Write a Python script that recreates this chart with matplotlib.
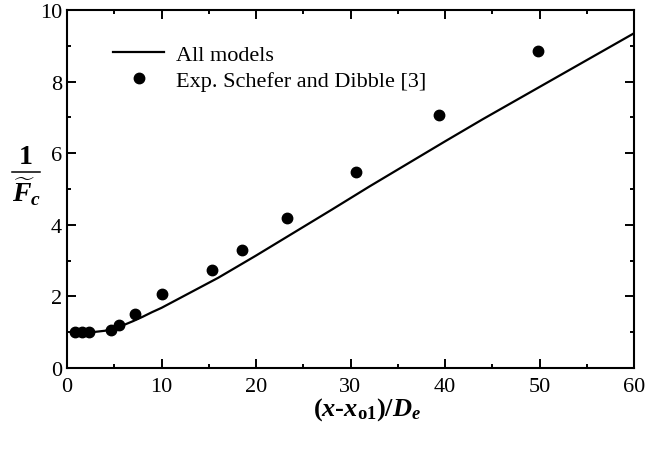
import matplotlib
matplotlib.use("Agg")
import matplotlib.pyplot as plt
from matplotlib.lines import Line2D
from matplotlib.ticker import MultipleLocator

plt.rcParams['font.family'] = ['Liberation Serif', 'DejaVu Serif']
plt.rcParams['mathtext.fontset'] = 'custom'
plt.rcParams['mathtext.rm'] = 'Liberation Serif'
plt.rcParams['mathtext.it'] = 'Liberation Serif:italic'
plt.rcParams['mathtext.bf'] = 'Liberation Serif:bold'
plt.rcParams['mathtext.bfit'] = 'Liberation Serif:italic:bold'

# Model curve (all models)
model_x = [0.7, 2.0, 3.0, 4.0, 5.0, 6.0, 7.0, 8.0, 9.0, 10.0, 12.0, 14.0, 16.0, 18.0,
           20.0, 24.0, 28.0, 32.0, 36.0, 40.0, 44.0, 48.0, 52.0, 56.0, 60.0]
model_y = [1.0, 1.0, 1.01, 1.04, 1.1, 1.2, 1.31, 1.43, 1.56, 1.68, 1.96, 2.24, 2.52, 2.83,
           3.14, 3.78, 4.42, 5.07, 5.7, 6.33, 6.95, 7.55, 8.15, 8.75, 9.35]

# Experimental data, Schefer and Dibble [3]
exp_x = [0.85, 1.62, 2.36, 4.66, 5.5, 7.2, 10.0, 15.3, 18.5, 23.3, 30.6, 39.4, 49.8]
exp_y = [1.0, 1.0, 1.0, 1.06, 1.2, 1.52, 2.07, 2.74, 3.3, 4.19, 5.47, 7.07, 8.85]

x_ticks = [0, 10, 20, 30, 40, 50, 60]
y_ticks = [0, 2, 4, 6, 8, 10]

fig = plt.figure(figsize=(6.64, 4.52), dpi=100)
ax = fig.add_axes([67/664, 1 - 369/452, (634 - 67)/664, (369 - 11)/452])

ax.plot(model_x, model_y, color='black', lw=1.6, label='All models')
ax.plot(exp_x, exp_y, 'o', color='black', ms=7.5, ls='none',
        label='Exp. Schefer and Dibble [3]')

ax.set_xlim(0, 60)
ax.set_ylim(0, 10)
ax.set_xticks(x_ticks)
ax.set_yticks(y_ticks)
ax.xaxis.set_minor_locator(MultipleLocator(5))
ax.yaxis.set_minor_locator(MultipleLocator(1))
ax.tick_params(which='both', direction='in', top=True, right=True, width=1.4, labelsize=16)
ax.tick_params(which='major', length=6.5)
ax.tick_params(which='minor', length=3)
ax.tick_params(axis='x', which='major', pad=6.5)
ax.tick_params(axis='y', which='major', pad=3.5)
for s in ax.spines.values():
    s.set_linewidth(1.5)

ax.legend(loc='upper left', bbox_to_anchor=(0.066, 0.93), frameon=False, fontsize=16,
          handlelength=2.3, handletextpad=0.5, labelspacing=0.25, borderaxespad=0)

# y label as a stacked fraction
fig.text(25/664, 1 - 158/452, r'$\mathbf{1}$', fontsize=20, ha='center', va='center')
fig.add_artist(Line2D([12/664, 40/664], [1 - 173/452, 1 - 173/452], color='black', lw=1.1,
                      transform=fig.transFigure))
fig.text(27/664, 1 - 192/452, r'$\widetilde{\mathbfit{F}}_{\mathbfit{c}}$', fontsize=20,
         ha='center', va='center')

fig.text(367/664, 1 - 416/452,
         '$\\mathbf{(}\\mathbfit{x}\\mathbf{\u2010}\\mathbfit{x}_{\\mathbf{o1}}\\mathbf{)/}\\mathbfit{D}_{\\mathbfit{e}}$',
         fontsize=19, ha='center', va='baseline')

fig.savefig('out.png', dpi=100)
